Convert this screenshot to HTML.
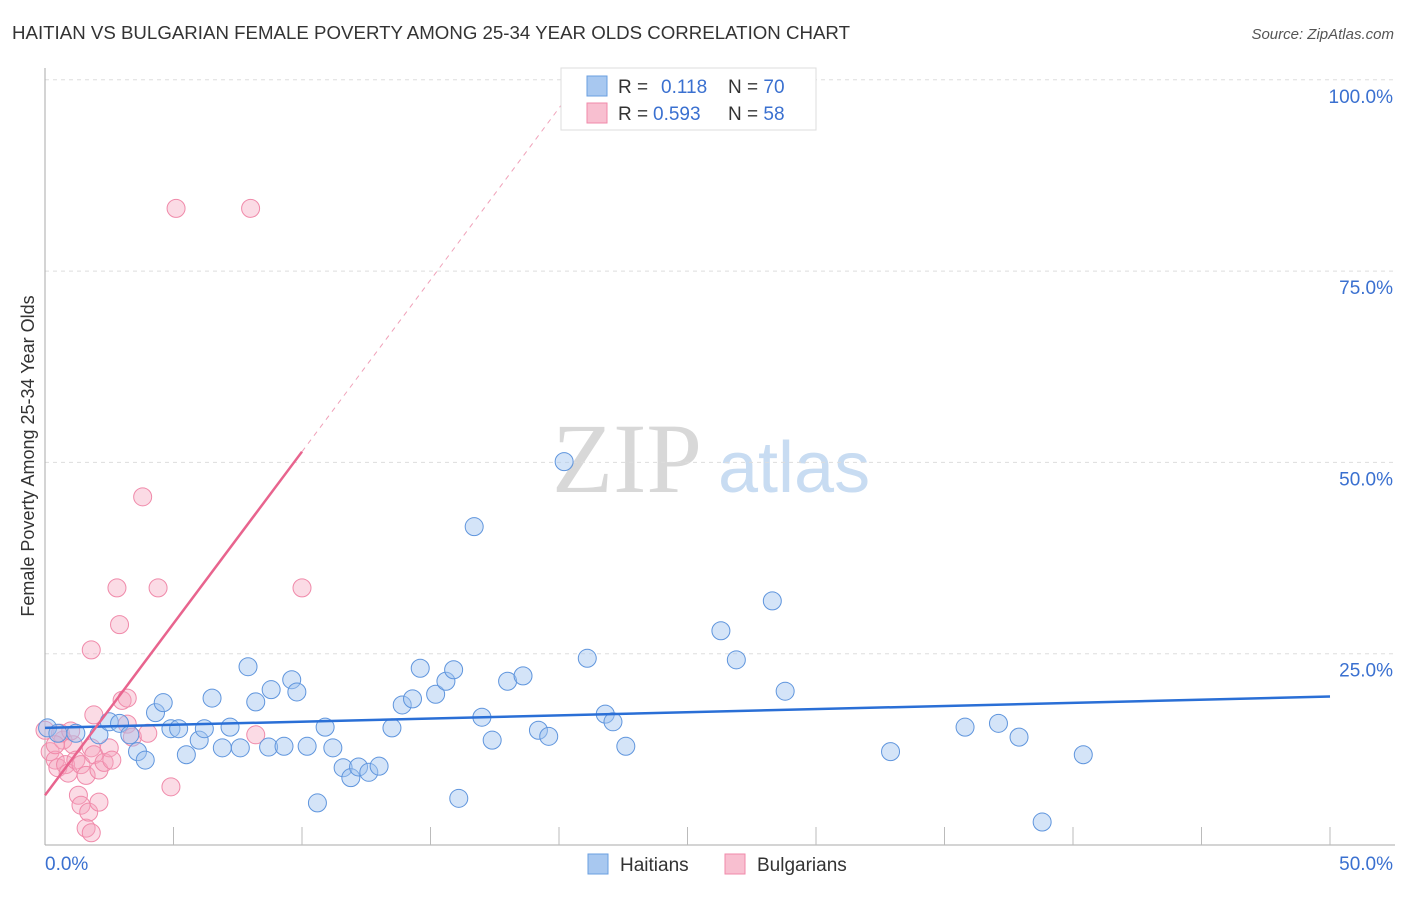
<!DOCTYPE html>
<html><head><meta charset="utf-8"><style>
body{margin:0;background:#fff;font-family:"Liberation Sans",sans-serif}
svg text{font-family:"Liberation Sans",sans-serif}
</style></head><body>
<svg id="chart" width="1406" height="892">
<text x="12" y="39" font-size="18" fill="#333" textLength="838" lengthAdjust="spacingAndGlyphs">HAITIAN VS BULGARIAN FEMALE POVERTY AMONG 25-34 YEAR OLDS CORRELATION CHART</text>
<text x="1394" y="39" font-size="15" fill="#555" font-style="italic" text-anchor="end">Source: ZipAtlas.com</text>
<text x="552" y="492" font-size="100" fill="#d8d8d8" style="font-family:'Liberation Serif',serif">ZIP</text>
<text x="718" y="492" font-size="72" fill="#c8dcf2">atlas</text>
<g id="grid"></g><g id="axes"></g><g id="marks"></g>
<text transform="translate(34,456) rotate(-90)" font-size="18" fill="#333" text-anchor="middle">Female Poverty Among 25-34 Year Olds</text>
<g>
<rect x="561" y="68" width="255" height="62" fill="#fff" stroke="#ddd"/>
<rect x="587" y="76" width="20" height="20" fill="#a8c8f0" stroke="#6a9fe0"/>
<rect x="587" y="103" width="20" height="20" fill="#f8bfd0" stroke="#f08aaa"/>
<text x="618" y="93" font-size="19" fill="#333">R = <tspan x="661" fill="#3a70d0">0.118</tspan><tspan x="728">N = </tspan><tspan fill="#3a70d0">70</tspan></text>
<text x="618" y="120" font-size="19" fill="#333">R = <tspan x="653" fill="#3a70d0">0.593</tspan><tspan x="728">N = </tspan><tspan fill="#3a70d0">58</tspan></text>
</g>
<g>
<rect x="588" y="854" width="20" height="20" fill="#a8c8f0" stroke="#6a9fe0"/>
<text x="620" y="871" font-size="19" fill="#333">Haitians</text>
<rect x="725" y="854" width="20" height="20" fill="#f8bfd0" stroke="#f08aaa"/>
<text x="757" y="871" font-size="19" fill="#333">Bulgarians</text>
</g>
</svg>
<script>
const blueX=[0.1,0.5,1.2,2.1,2.5,2.9,3.3,3.6,3.9,4.3,4.6,4.9,5.2,5.5,6.0,6.2,6.5,6.9,7.2,7.6,7.9,8.2,8.7,8.8,9.3,9.6,9.8,10.2,10.6,10.9,11.2,11.6,11.9,12.2,12.6,13.0,13.5,13.9,14.3,14.6,15.2,15.6,15.9,16.1,16.7,17.0,17.4,18.0,18.6,19.2,19.6,20.2,21.1,21.8,22.1,22.6,26.3,26.9,28.3,28.8,32.9,35.8,37.1,37.9,38.8,40.4];
const blueY=[15.3,14.6,14.6,14.4,16.1,15.9,14.4,12.2,11.1,17.3,18.6,15.2,15.2,11.8,13.7,15.2,19.2,12.7,15.4,12.7,23.3,18.7,12.8,20.3,12.9,21.6,20.0,12.9,5.5,15.4,12.7,10.1,8.8,10.2,9.5,10.3,15.3,18.3,19.1,23.1,19.7,21.4,22.9,6.1,41.6,16.7,13.7,21.4,22.1,15.0,14.2,50.1,24.4,17.1,16.1,12.9,28.0,24.2,31.9,20.1,12.2,15.4,15.9,14.1,3.0,11.8];
const pinkX=[0,0.2,0.4,0.5,0.7,0.8,0.9,1.1,1.2,1.4,1.6,1.8,1.9,2.1,2.3,1.3,1.4,1.6,1.7,1.8,1.9,2.1,2.5,2.6,2.8,2.9,3.0,3.2,3.2,3.4,3.8,4.0,4.4,4.9,5.1,8.0,8.2,10.0,1.8,0.6,1.0,0.4];
const pinkY=[15.0,12.2,11.1,10.1,13.7,10.5,9.4,13.1,11.1,10.5,9.1,12.7,11.8,9.8,10.8,6.5,5.2,2.2,4.3,1.6,17.0,5.6,12.7,11.1,33.6,28.8,18.9,19.2,15.8,14.1,45.5,14.6,33.6,7.6,83.2,83.2,14.4,33.6,25.5,14.6,14.9,13.1];
const blueTrend=[15.3,19.4];
const pinkTrend=[6.5,4.49];
const xTicks=[0,50];
const yTicks=[25,50,75,100];
const NS="http://www.w3.org/2000/svg";
const sx=v=>45+v*25.7, sy=v=>845-v*7.652;
function mk(t,a,p){const e=document.createElementNS(NS,t);for(const k in a)e.setAttribute(k,a[k]);p.appendChild(e);return e;}
const grid=document.getElementById('grid'),axes=document.getElementById('axes'),marks=document.getElementById('marks');
yTicks.forEach(v=>{
 const l=mk('line',{x1:45,x2:1395,y1:sy(v),y2:sy(v),stroke:'#ddd','stroke-dasharray':'4,4'},grid);
 
 
 const t=mk('text',{x:1393,y:sy(v)+23,'font-size':19,fill:'#3a70d0','text-anchor':'end'},axes);
 t.textContent=v.toFixed(1)+'%';
 
 
});
mk('line',{x1:45,x2:45,y1:68,y2:845,stroke:'#aaa'},axes);
mk('line',{x1:45,x2:1395,y1:845,y2:845,stroke:'#aaa'},axes);
for(let i=1;i<=10;i++){mk('line',{x1:45+i*128.5,x2:45+i*128.5,y1:827,y2:845,stroke:'#bbb'},axes);}
xTicks.forEach((v,i)=>{
 const t=mk('text',{x:i?1393:45,y:870,'font-size':19,fill:'#3a70d0','text-anchor':i?'end':'start'},axes);
 t.textContent=v.toFixed(1)+'%';
 
 
});
pinkX.forEach((x,i)=>{
 const c=mk('circle',{cx:sx(x),cy:sy(pinkY[i]),r:9,fill:'rgba(245,165,190,0.4)',stroke:'#f08aaa','stroke-width':1},marks);
 
 
});
blueX.forEach((x,i)=>{
 const c=mk('circle',{cx:sx(x),cy:sy(blueY[i]),r:9,fill:'rgba(160,195,240,0.45)',stroke:'#5f95dd','stroke-width':1},marks);
 
 
});
const bl=mk('line',{x1:sx(0),y1:sy(blueTrend[0]),x2:sx(50),y2:sy(blueTrend[1]),stroke:'#2a6fd6','stroke-width':2.5},marks);


const pe=(100-pinkTrend[0])/pinkTrend[1];
const pl=mk('line',{x1:sx(0),y1:sy(pinkTrend[0]),x2:sx(10),y2:sy(pinkTrend[0]+10*pinkTrend[1]),stroke:'#e8648e','stroke-width':2.5},marks);


const pd=mk('line',{x1:sx(10),y1:sy(pinkTrend[0]+10*pinkTrend[1]),x2:sx(pe),y2:sy(100),stroke:'#f0a0b8','stroke-width':1,'stroke-dasharray':'5,5'},marks);


</script>
</body></html>
